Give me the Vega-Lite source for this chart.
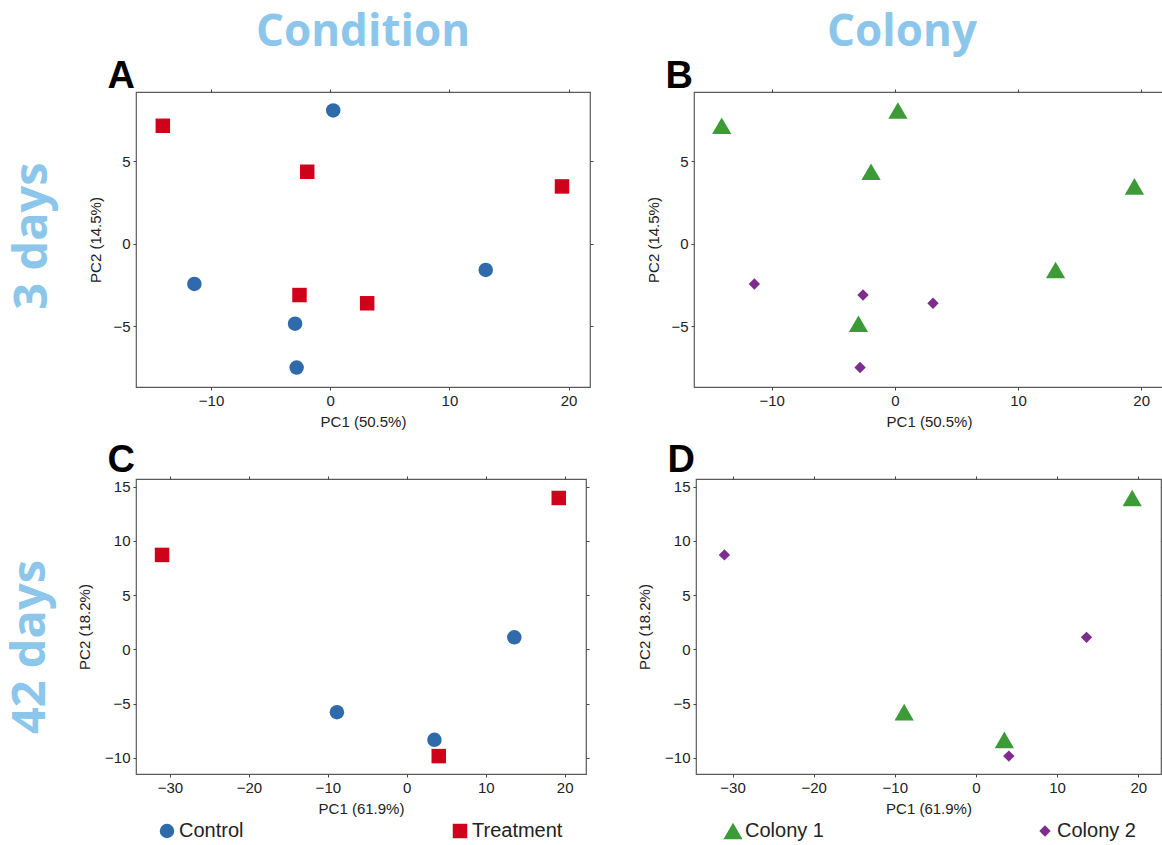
{
  "$schema": "https://vega.github.io/schema/vega-lite/v6.json",
  "background": "white",
  "padding": {"left": 6, "top": 10, "right": 0, "bottom": 0},
  "datasets": {
    "pca": [
      {"day": "3 days", "sample": "S1", "PC1": 0.25, "PC2": 8.08, "Condition": "Control", "Colony": "Colony 1"},
      {"day": "3 days", "sample": "S2", "PC1": -11.4, "PC2": -2.45, "Condition": "Control", "Colony": "Colony 2"},
      {"day": "3 days", "sample": "S3", "PC1": 13.05, "PC2": -1.6, "Condition": "Control", "Colony": "Colony 1"},
      {"day": "3 days", "sample": "S4", "PC1": -2.95, "PC2": -4.86, "Condition": "Control", "Colony": "Colony 1"},
      {"day": "3 days", "sample": "S5", "PC1": -2.82, "PC2": -7.52, "Condition": "Control", "Colony": "Colony 2"},
      {"day": "3 days", "sample": "S6", "PC1": -14.05, "PC2": 7.15, "Condition": "Treatment", "Colony": "Colony 1"},
      {"day": "3 days", "sample": "S7", "PC1": -1.93, "PC2": 4.36, "Condition": "Treatment", "Colony": "Colony 1"},
      {"day": "3 days", "sample": "S8", "PC1": 19.45, "PC2": 3.47, "Condition": "Treatment", "Colony": "Colony 1"},
      {"day": "3 days", "sample": "S9", "PC1": -2.58, "PC2": -3.12, "Condition": "Treatment", "Colony": "Colony 2"},
      {"day": "3 days", "sample": "S10", "PC1": 3.1, "PC2": -3.62, "Condition": "Treatment", "Colony": "Colony 2"},
      {"day": "42 days", "sample": "T1", "PC1": -31.0, "PC2": 8.7, "Condition": "Treatment", "Colony": "Colony 2"},
      {"day": "42 days", "sample": "T2", "PC1": 19.25, "PC2": 13.95, "Condition": "Treatment", "Colony": "Colony 1"},
      {"day": "42 days", "sample": "T3", "PC1": 4.05, "PC2": -9.85, "Condition": "Treatment", "Colony": "Colony 2"},
      {"day": "42 days", "sample": "T4", "PC1": -8.85, "PC2": -5.8, "Condition": "Control", "Colony": "Colony 1"},
      {"day": "42 days", "sample": "T5", "PC1": 3.5, "PC2": -8.35, "Condition": "Control", "Colony": "Colony 1"},
      {"day": "42 days", "sample": "T6", "PC1": 13.62, "PC2": 1.1, "Condition": "Control", "Colony": "Colony 2"}
    ]
  },
  "config": {
    "font": "Liberation Sans",
    "view": {"stroke": "#5a5a5a", "strokeWidth": 1.2},
    "axis": {
      "grid": false, "domain": false, "tickSize": 3, "tickColor": "#444", "tickWidth": 1,
      "labelFont": "Liberation Sans", "labelFontSize": 15, "labelColor": "#222", "labelPadding": 3,
      "titleFont": "Liberation Sans", "titleFontSize": 15, "titleFontWeight": "normal", "titleColor": "#222"
    },
    "axisLeft": {"titlePadding": 9},
    "axisBottom": {"titlePadding": 6},
    "legend": {
      "labelFont": "Liberation Sans", "labelFontSize": 20, "labelColor": "#222",
      "symbolStrokeWidth": 0, "labelOffset": 2
    }
  },
  "vconcat": [
    {
      "title": {"text": "3 days", "orient": "left", "anchor": "middle", "font": "Open Sans", "fontSize": 47, "fontWeight": "bold", "color": "#8cc6eb", "offset": 31, "dx": -16},
      "spacing": 51,
      "hconcat": [
        {
          "width": 454, "height": 295,
          "title": {"text": "Condition", "anchor": "middle", "frame": "group", "font": "Open Sans", "fontSize": 44, "fontWeight": "bold", "color": "#8cc6eb", "offset": 2},
          "data": {"name": "pca"},
          "transform": [{"filter": "datum.day === '3 days'"}],
          "layer": [
            {
              "mark": {"type": "point", "filled": true, "opacity": 1, "size": 210},
              "encoding": {
                "x": {"field": "PC1", "type": "quantitative", "scale": {"domain": [-16.3, 21.8], "nice": false, "zero": false}, "axis": {"orient": "bottom", "title": "PC1 (50.5%)", "values": [-10, 0, 10, 20]}},
                "y": {"field": "PC2", "type": "quantitative", "scale": {"domain": [-8.7, 9.2], "nice": false, "zero": false}, "axis": {"orient": "left", "title": "PC2 (14.5%)", "values": [-5, 0, 5]}},
                "color": {"field": "Condition", "type": "nominal", "scale": {"domain": ["Control", "Treatment"], "range": ["#2f6baa", "#d0021b"]}, "legend": null},
                "shape": {"field": "Condition", "type": "nominal", "scale": {"domain": ["Control", "Treatment"], "range": ["circle", "square"]}, "legend": null}
              }
            },
            {
              "mark": {"type": "point", "opacity": 0},
              "encoding": {
                "x": {"field": "PC1", "type": "quantitative", "axis": {"orient": "top", "labels": false, "values": [-10, 0, 10, 20], "title": "A", "titleFontSize": 38, "titleFontWeight": "bold", "titleColor": "#000", "titleX": -29, "titleY": -5, "titleAlign": "left", "titleBaseline": "alphabetic", "titleAngle": 0}},
                "y": {"field": "PC2", "type": "quantitative", "axis": {"orient": "right", "labels": false, "values": [-5, 0, 5], "title": null}}
              }
            }
          ],
          "resolve": {"axis": {"x": "independent", "y": "independent"}}
        },
        {
          "width": 470, "height": 295,
          "title": {"text": "Colony", "anchor": "middle", "frame": "group", "font": "Open Sans", "fontSize": 44, "fontWeight": "bold", "color": "#8cc6eb", "offset": 2, "dx": -27},
          "data": {"name": "pca"},
          "transform": [{"filter": "datum.day === '3 days'"}],
          "layer": [
            {
              "mark": {"type": "point", "filled": true, "opacity": 1},
              "encoding": {
                "x": {"field": "PC1", "type": "quantitative", "scale": {"domain": [-16.3, 21.85], "nice": false, "zero": false}, "axis": {"orient": "bottom", "title": "PC1 (50.5%)", "values": [-10, 0, 10, 20]}},
                "y": {"field": "PC2", "type": "quantitative", "scale": {"domain": [-8.7, 9.2], "nice": false, "zero": false}, "axis": {"orient": "left", "title": "PC2 (14.5%)", "values": [-5, 0, 5]}},
                "color": {"field": "Colony", "type": "nominal", "scale": {"domain": ["Colony 1", "Colony 2"], "range": ["#3c9b37", "#7d2d8c"]}, "legend": null},
                "shape": {"field": "Colony", "type": "nominal", "scale": {"domain": ["Colony 1", "Colony 2"], "range": ["triangle-up", "diamond"]}, "legend": null},
                "size": {"field": "Colony", "type": "nominal", "scale": {"domain": ["Colony 1", "Colony 2"], "range": [370, 130]}, "legend": null}
              }
            },
            {
              "mark": {"type": "point", "opacity": 0},
              "encoding": {
                "x": {"field": "PC1", "type": "quantitative", "axis": {"orient": "top", "labels": false, "values": [-10, 0, 10, 20], "title": "B", "titleFontSize": 38, "titleFontWeight": "bold", "titleColor": "#000", "titleX": -29, "titleY": -5, "titleAlign": "left", "titleBaseline": "alphabetic", "titleAngle": 0}},
                "y": {"field": "PC2", "type": "quantitative", "axis": {"orient": "right", "labels": false, "values": [-5, 0, 5], "title": null}}
              }
            }
          ],
          "resolve": {"axis": {"x": "independent", "y": "independent"}}
        }
      ],
      "resolve": {"scale": {"x": "independent", "y": "independent", "color": "independent", "shape": "independent", "size": "independent"}}
    },
    {
      "title": {"text": "42 days", "orient": "left", "anchor": "middle", "font": "Open Sans", "fontSize": 47, "fontWeight": "bold", "color": "#8cc6eb", "offset": 22, "dx": -6},
      "spacing": 45,
      "hconcat": [
        {
          "width": 450, "height": 295,
          "data": {"name": "pca"},
          "transform": [{"filter": "datum.day === '42 days'"}],
          "layer": [
            {
              "mark": {"type": "point", "filled": true, "opacity": 1, "size": 210},
              "encoding": {
                "x": {"field": "PC1", "type": "quantitative", "scale": {"domain": [-34.3, 22.7], "nice": false, "zero": false}, "axis": {"orient": "bottom", "title": "PC1 (61.9%)", "values": [-30, -20, -10, 0, 10, 20]}},
                "y": {"field": "PC2", "type": "quantitative", "scale": {"domain": [-11.5, 15.7], "nice": false, "zero": false}, "axis": {"orient": "left", "title": "PC2 (18.2%)", "titlePadding": 12, "values": [-10, -5, 0, 5, 10, 15]}},
                "color": {"field": "Condition", "type": "nominal", "scale": {"domain": ["Control", "Treatment"], "range": ["#2f6baa", "#d0021b"]}, "legend": {"orient": "none", "legendX": 21, "legendY": 342, "direction": "horizontal", "title": null, "columnPadding": 206, "symbolSize": 210}},
                "shape": {"field": "Condition", "type": "nominal", "scale": {"domain": ["Control", "Treatment"], "range": ["circle", "square"]}, "legend": {"orient": "none", "legendX": 21, "legendY": 342, "direction": "horizontal", "title": null, "columnPadding": 206, "symbolSize": 210}}
              }
            },
            {
              "mark": {"type": "point", "opacity": 0},
              "encoding": {
                "x": {"field": "PC1", "type": "quantitative", "axis": {"orient": "top", "labels": false, "values": [-30, -20, -10, 0, 10, 20], "title": "C", "titleFontSize": 38, "titleFontWeight": "bold", "titleColor": "#000", "titleX": -29, "titleY": -8, "titleAlign": "left", "titleBaseline": "alphabetic", "titleAngle": 0}},
                "y": {"field": "PC2", "type": "quantitative", "axis": {"orient": "right", "labels": false, "values": [-10, -5, 0, 5, 10, 15], "title": null}}
              }
            }
          ],
          "resolve": {"axis": {"x": "independent", "y": "independent"}}
        },
        {
          "width": 465, "height": 295,
          "data": {"name": "pca"},
          "transform": [{"filter": "datum.day === '42 days'"}],
          "layer": [
            {
              "mark": {"type": "point", "filled": true, "opacity": 1},
              "encoding": {
                "x": {"field": "PC1", "type": "quantitative", "scale": {"domain": [-34.5, 22.8], "nice": false, "zero": false}, "axis": {"orient": "bottom", "title": "PC1 (61.9%)", "values": [-30, -20, -10, 0, 10, 20]}},
                "y": {"field": "PC2", "type": "quantitative", "scale": {"domain": [-11.5, 15.7], "nice": false, "zero": false}, "axis": {"orient": "left", "title": "PC2 (18.2%)", "titlePadding": 12, "values": [-10, -5, 0, 5, 10, 15]}},
                "color": {"field": "Colony", "type": "nominal", "scale": {"domain": ["Colony 1", "Colony 2"], "range": ["#3c9b37", "#7d2d8c"]}, "legend": {"orient": "none", "legendX": 27, "legendY": 342, "direction": "horizontal", "title": null, "columnPadding": 211}},
                "shape": {"field": "Colony", "type": "nominal", "scale": {"domain": ["Colony 1", "Colony 2"], "range": ["triangle-up", "diamond"]}, "legend": {"orient": "none", "legendX": 27, "legendY": 342, "direction": "horizontal", "title": null, "columnPadding": 211}},
                "size": {"field": "Colony", "type": "nominal", "scale": {"domain": ["Colony 1", "Colony 2"], "range": [370, 130]}, "legend": {"orient": "none", "legendX": 27, "legendY": 342, "direction": "horizontal", "title": null, "columnPadding": 211}}
              }
            },
            {
              "mark": {"type": "point", "opacity": 0},
              "encoding": {
                "x": {"field": "PC1", "type": "quantitative", "axis": {"orient": "top", "labels": false, "values": [-30, -20, -10, 0, 10, 20], "title": "D", "titleFontSize": 38, "titleFontWeight": "bold", "titleColor": "#000", "titleX": -29, "titleY": -8, "titleAlign": "left", "titleBaseline": "alphabetic", "titleAngle": 0}},
                "y": {"field": "PC2", "type": "quantitative", "axis": {"orient": "right", "labels": false, "values": [-10, -5, 0, 5, 10, 15], "title": null}}
              }
            }
          ],
          "resolve": {"axis": {"x": "independent", "y": "independent"}}
        }
      ],
      "resolve": {"scale": {"x": "independent", "y": "independent", "color": "independent", "shape": "independent", "size": "independent"}}
    }
  ],
  "spacing": 10
}
